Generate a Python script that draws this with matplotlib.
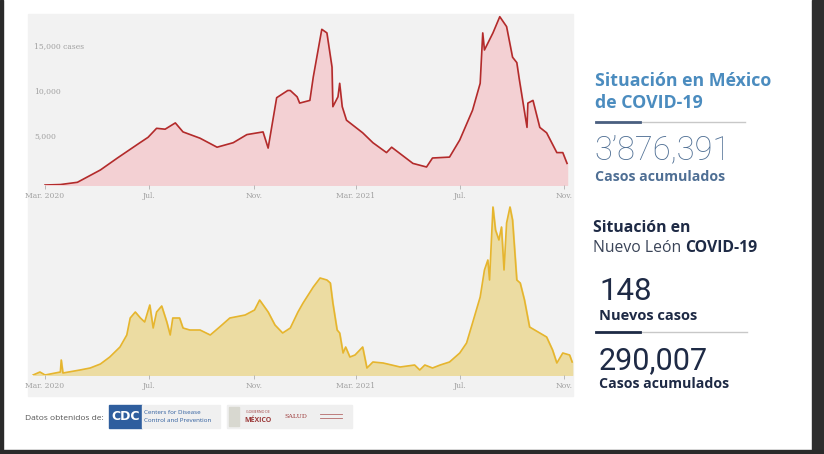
import matplotlib.pyplot as plt
from matplotlib.patches import Rectangle
import numpy as np

# days counted from 1 Mar 2020
mx_day = [0, 18, 38, 65, 85, 111, 121, 131, 141, 153, 162, 182, 202, 221, 237, 256, 262,
          272, 285, 288, 296, 299, 311, 315, 325, 331, 337, 338, 344, 346, 349, 354, 373,
          385, 401, 407, 432, 448, 455, 475, 487, 502, 511, 514, 516, 526, 534, 542, 549,
          554, 557, 566, 567, 573, 581, 589, 601, 608, 613]
mx_cases = [0, 50, 300, 1670, 3000, 4670, 5300, 6300, 6200, 6900, 5900, 5200, 4200, 4700,
            5600, 5900, 4100, 9700, 10500, 10500, 9800, 9100, 9400, 12000, 17300, 16900,
            13100, 8700, 9800, 11300, 8700, 7200, 5800, 4700, 3600, 4200, 2400, 2000, 3000,
            3100, 5000, 8300, 11300, 16900, 15000, 16900, 18700, 17600, 14200, 13600, 11700,
            6400, 9100, 9400, 6400, 5800, 3600, 3600, 2400]

nl_day = [-14, -6, 0, 18, 19, 21, 41, 53, 65, 76, 88, 96, 100, 106, 112, 117, 123, 127,
          131, 137, 143, 147, 150, 158, 162, 170, 182, 194, 205, 217, 235, 246, 252, 262,
          270, 279, 288, 297, 303, 315, 323, 331, 335, 338, 343, 346, 350, 353, 358, 364,
          373, 378, 385, 397, 417, 434, 440, 446, 455, 464, 475, 487, 495, 502, 511, 516,
          520, 522, 526, 529, 533, 536, 539, 542, 546, 549, 554, 558, 563, 569, 581, 589,
          596, 601, 608, 616, 619]
nl_cases = [0, 30, 0, 30, 150, 20, 50, 70, 110, 180, 280, 400, 570, 630, 570, 530, 700,
            470, 630, 690, 530, 400, 570, 570, 470, 450, 450, 400, 480, 570, 600, 650, 750,
            630, 500, 420, 470, 630, 720, 880, 970, 950, 920, 720, 450, 420, 220, 280, 180,
            200, 280, 70, 130, 120, 80, 100, 50, 100, 70, 100, 130, 220, 320, 520, 780,
            1050, 1150, 950, 1680, 1450, 1350, 1480, 1050, 1520, 1680, 1550, 950, 920, 750,
            480, 420, 380, 250, 120, 220, 200, 130]

tick_days = [0, 122, 245, 365, 487, 610]
tick_labels = ["Mar. 2020", "Jul.", "Nov.", "Mar. 2021", "Jul.", "Nov."]
y_ticks = [5000, 10000, 15000]
y_labels = ["5,000", "10,000", "15,000 cases"]

W, H = 824, 454
fig = plt.figure(figsize=(W / 100, H / 100), dpi=100)
fig.patch.set_facecolor("white")


def fx(px):
    return px / W


def fy(py):
    return 1 - py / H


def box(x0, y0, x1, y1, color):
    # rectangle given in pixel coords of the reference (y down)
    fig.patches.append(Rectangle((fx(x0), fy(y1)), fx(x1) - fx(x0), fy(y0) - fy(y1),
                                 transform=fig.transFigure, color=color, zorder=0))


# dark frame of the screenshot
box(0, 0, 3, H, "#2a2a2a")
box(812, 0, W, H, "#2e2e2e")
box(0, 450, W, H, "#2a2a2a")
# grey chart panel
box(28, 14, 573, 396, "#f2f2f2")

serif = ["DejaVu Serif"]


def setup(ax, top_px, bot_px, ymax):
    ax.set_position([fx(28), fy(bot_px), fx(545), fy(top_px) - fy(bot_px)])
    ax.set_zorder(2)
    ax.set_xlim(-20, 620)
    ax.set_ylim(0, ymax)
    ax.patch.set_alpha(0)
    for s in ax.spines.values():
        s.set_visible(False)
    ax.set_yticks([])
    ax.set_xticks(tick_days)
    ax.set_xticklabels(tick_labels, family=serif, fontsize=5.5, color="#a0a0a0")
    ax.tick_params(axis="x", length=3, width=0.6, color="#b0b0b0", pad=2)


ax1 = fig.add_axes([0, 0, 1, 1])
setup(ax1, 14, 185, 19000)
ax1.fill_between(mx_day, mx_cases, color="#f3d0d3")
ax1.plot(mx_day, mx_cases, color="#b32b2b", lw=1.2)
for v, lab in zip(y_ticks, y_labels):
    ax1.text(-13, v, lab, family=serif, fontsize=5.5, color="#a0a0a0", va="bottom")

ax2 = fig.add_axes([0, 0, 1, 1])
setup(ax2, 200, 375, 1750)
ax2.fill_between(nl_day, nl_cases, color="#ecdca2")
ax2.plot(nl_day, nl_cases, color="#e6b52e", lw=1.2)

# right side panel
blue = "#4b8cbf"
navy = "#1e2a45"
slate = "#4f6f94"
sans = ["Open Sans", "DejaVu Sans"]
num = ["Roboto", "DejaVu Sans"]
fig.text(fx(595), fy(81), "Situación en México", family=sans, fontsize=12.8,
         weight="bold", color=blue, va="center")
fig.text(fx(595), fy(103), "de COVID-19", family=sans, fontsize=12.8,
         weight="bold", color=blue, va="center")
fig.add_artist(plt.Line2D([fx(596), fx(745)], [fy(122), fy(122)], color="#c8c8c8", lw=1))
fig.add_artist(plt.Line2D([fx(596), fx(640)], [fy(122), fy(122)], color="#4a5f80", lw=2))
fig.text(fx(594), fy(150), "3\u2019876,391", family=num,
         fontsize=23.5, weight="light", color=slate, va="center")
fig.text(fx(595), fy(177), "Casos acumulados", family=sans, fontsize=10.2,
         weight="bold", color=slate, va="center")

fig.text(fx(593), fy(228), "Situación en", family=sans, fontsize=11.3,
         weight="bold", color=navy, va="center")
t = fig.text(fx(593), fy(248), "Nuevo León ", family=sans, fontsize=11.3,
             color="#3a4458", va="center")
fig.canvas.draw()
bb = t.get_window_extent()
fig.text(bb.x1 / W, fy(248), "COVID-19", family=sans, fontsize=11.3,
         weight="bold", color=navy, va="center")
fig.text(fx(599), fy(292), "148", family=num, fontsize=22.5,
         color=navy, va="center")
fig.text(fx(599), fy(316), "Nuevos casos", family=sans, fontsize=10.5,
         weight="bold", color=navy, va="center")
fig.add_artist(plt.Line2D([fx(596), fx(747)], [fy(332), fy(332)], color="#c8c8c8", lw=1))
fig.add_artist(plt.Line2D([fx(596), fx(640)], [fy(332), fy(332)], color=navy, lw=2))
fig.text(fx(599), fy(361), "290,007", family=num, fontsize=22,
         color=navy, va="center")
fig.text(fx(599), fy(384), "Casos acumulados", family=sans, fontsize=10.2,
         weight="bold", color=navy, va="center")

# footer
fig.text(fx(25), fy(418), "Datos obtenidos de:", family=sans, fontsize=6,
         color="#555555", va="center")
box(109, 405, 142, 428, "#2f5e9e")
fig.text(fx(125.5), fy(417), "CDC", family=["DejaVu Sans"], fontsize=9, weight="bold",
         color="white", ha="center", va="center")
box(142, 405, 220, 428, "#f0f0f0")
fig.text(fx(144), fy(412), "Centers for Disease", family=sans, fontsize=4.5,
         color="#2f5e9e", va="center")
fig.text(fx(144), fy(421), "Control and Prevention", family=sans, fontsize=4.5,
         color="#2f5e9e", va="center")
box(227, 405, 352, 428, "#efefef")
box(229, 407, 239, 426, "#d8d8d0")
fig.text(fx(258), fy(412), "GOBIERNO DE", family=sans, fontsize=2.5,
         color="#9c3a3a", ha="center", va="center")
fig.text(fx(258), fy(420), "MÉXICO", family=sans, fontsize=5, weight="bold",
         color="#9c3a3a", ha="center", va="center")
fig.text(fx(296), fy(416), "SALUD", family=serif, fontsize=4.5,
         color="#9c3a3a", ha="center", va="center")
fig.add_artist(plt.Line2D([fx(320), fx(342)], [fy(414), fy(414)], color="#b56a6a", lw=0.6))
fig.add_artist(plt.Line2D([fx(320), fx(342)], [fy(418), fy(418)], color="#b56a6a", lw=0.6))

fig.savefig("out.png", dpi=100)
